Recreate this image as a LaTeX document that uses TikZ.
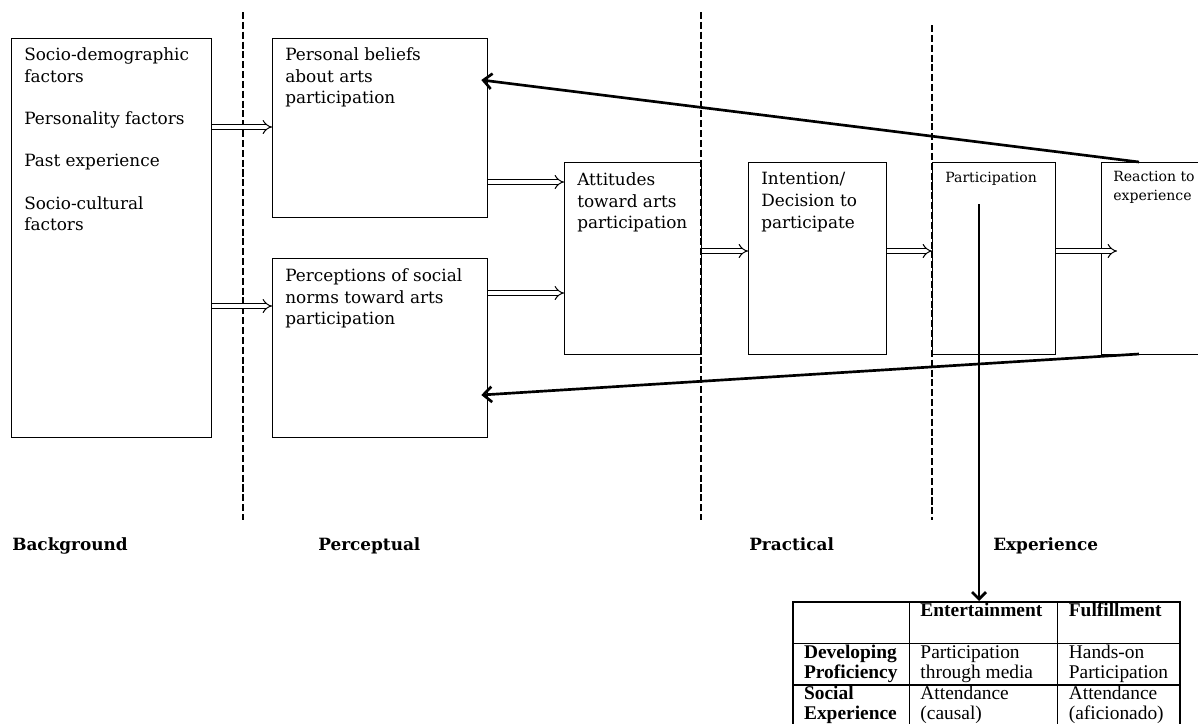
\documentclass[tikz,border=0pt]{standalone}
\usepackage{fontspec}
\setmainfont{DejaVu Serif}
\newfontfamily\tabfont{Liberation Serif}
\usepackage{array}
\usetikzlibrary{arrows.meta,calc}

\tikzset{
  box/.style={draw,line width=0.9pt,inner sep=0pt},
  txt/.style={anchor=north west,inner sep=0pt,align=left,font=\fontsize{12}{15.6}\selectfont},
  smalltxt/.style={anchor=north west,inner sep=0pt,align=left,font=\fontsize{10}{13.5}\selectfont},
  dbl/.style={double,double distance=2.8pt,line width=0.7pt,-{Implies[length=5pt,width=10pt]}},
  back/.style={line width=1.9pt,-{Straight Barb[length=6pt,width=11pt]}},
  divider/.style={line width=1.9pt,dash pattern=on 5pt off 2pt},
  stagelabel/.style={anchor=base west,inner sep=0pt,font=\bfseries\fontsize{12}{14}\selectfont}
}

\begin{document}
\begin{tikzpicture}[x=0.025cm,y=-0.025cm]
\clip (0,0) rectangle (1198,724);

% stage dividers
\draw[divider] (243,12) -- (243,520);
\draw[divider] (701,12) -- (701,520);
\draw[divider] (932,25) -- (932,520);

% boxes
\node[box,anchor=north west,minimum width=5cm,minimum height=9.975cm] (bg) at (11,38) {};
\node[box,anchor=north west,minimum width=5.375cm,minimum height=4.475cm] (beliefs) at (272,38) {};
\node[box,anchor=north west,minimum width=5.375cm,minimum height=4.475cm] (norms) at (272,258) {};
\node[box,anchor=north west,minimum width=3.425cm,minimum height=4.8cm] (attitude) at (564,162) {};
\node[box,anchor=north west,minimum width=3.45cm,minimum height=4.8cm] (intention) at (748,162) {};
\node[box,anchor=north west,minimum width=3.075cm,minimum height=4.8cm] (particip) at (932,162) {};
\node[box,anchor=north west,minimum width=4cm,minimum height=4.8cm] (reaction) at (1101,162) {};

% box texts
\node[txt] (bgtext) at (24,47) {Socio-demographic\\factors\\[14.5pt]Personality factors\\[14.5pt]Past experience\\[14.5pt]Socio-cultural\\factors};
\node[txt] (beliefstext) at (285,47) {Personal beliefs\\about arts\\participation};
\node[txt] (normstext) at (285,268) {Perceptions of social\\norms toward arts\\participation};
\node[txt] (attitudetext) at (577,172) {Attitudes\\toward arts\\participation};
\node[txt] (intentiontext) at (761,172) {Intention/\\Decision to\\participate};
\node[smalltxt] (participtext) at (945,172) {Participation};
\node[smalltxt] (reactiontext) at (1113,171) {Reaction to\\experience};

% forward arrows
\draw[dbl] ($(bg.north east)+(0,89)$) -- ($(beliefs.north west)+(0,89)$);
\draw[dbl] ($(bg.north east)+(0,268)$) -- ($(norms.north west)+(0,48)$);
\draw[dbl] ($(beliefs.north east)+(0,144)$) -- ($(attitude.north west)+(0,20)$);
\draw[dbl] ($(norms.north east)+(0,35)$) -- ($(attitude.north west)+(0,131)$);
\draw[dbl] ($(attitude.north east)+(0,89)$) -- ($(intention.north west)+(0,89)$);
\draw[dbl] ($(intention.north east)+(0,89)$) -- ($(particip.north west)+(0,89)$);
\draw[dbl] ($(particip.north east)+(0,89)$) -- ($(reaction.north west)+(16,89)$);

% feedback
\coordinate (loopa) at (1139,162);
\coordinate (loopb) at (1139,354);
\draw[back] (loopa) -- ($(beliefs.north east)+(-7,42)$);
\draw[back] (loopb) -- ($(norms.north east)+(-7,137)$);

% stage names
\node[stagelabel] (lblbg) at (12,550) {Background};
\node[stagelabel] (lblperc) at (318,550) {Perceptual};
\node[stagelabel] (lblprac) at (749,550) {Practical};
\node[stagelabel] (lblexp) at (993,550) {Experience};

% typology table
\node[anchor=north west,inner sep=0pt] (grid) at (792,601) {\tabfont\fontsize{13.8}{14.3}\selectfont
  \setlength\tabcolsep{7.5pt}\setlength\arrayrulewidth{0.9pt}%
  \begin{tabular}{|>{\raggedright\arraybackslash}p{2.35cm}|>{\raggedright\arraybackslash}p{3.15cm}|>{\raggedright\arraybackslash}p{2.5cm}|}\hline
   & \textbf{Entertainment} & \textbf{Fulfillment}\\
   & & \\ \hline
  \textbf{Developing}\newline\textbf{Proficiency} & Participation\newline through media & Hands-on\newline Participation\\ \hline
  \textbf{Social}\newline\textbf{Experience} & Attendance\newline (causal) & Attendance\newline (aficionado)\\ \hline
  \end{tabular}};

\coordinate (drop) at (979,204);
\draw[back,-{Straight Barb[length=5pt,width=10pt]}] (drop) -- (drop |- grid.north);
\end{tikzpicture}
\end{document}
